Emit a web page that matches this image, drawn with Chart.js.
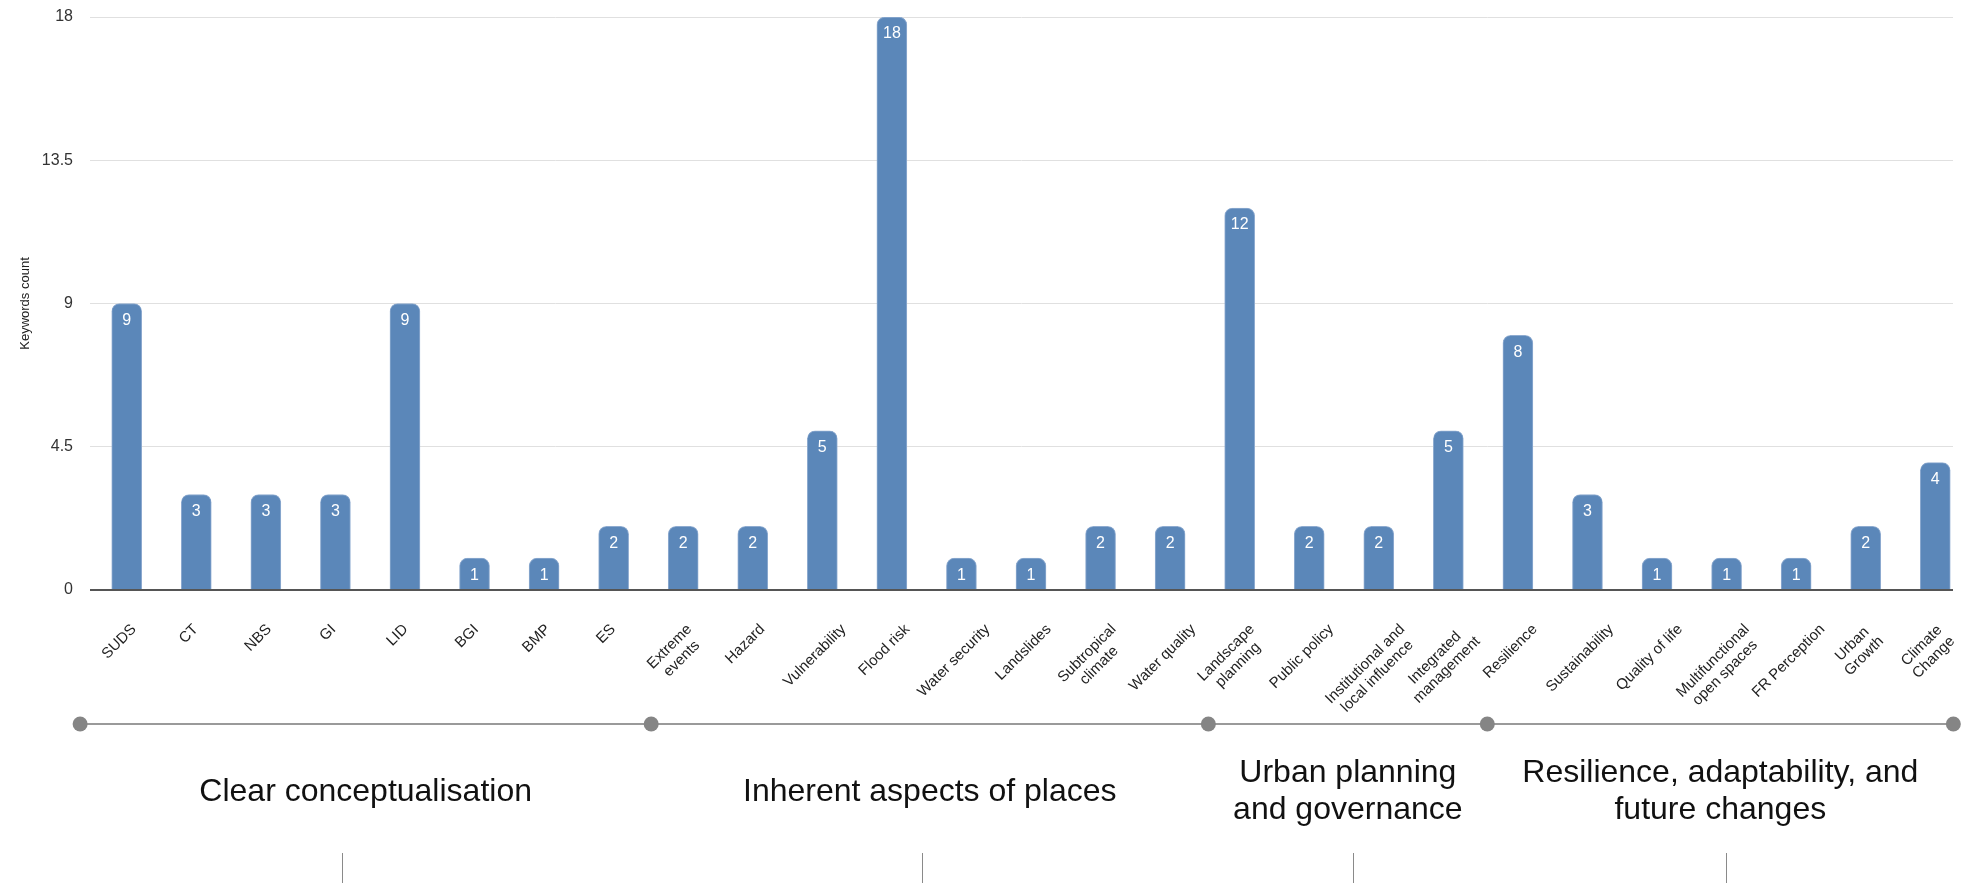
<!DOCTYPE html>
<html>
<head>
<meta charset="utf-8">
<script src="https://cdn.jsdelivr.net/npm/chart.js@4.4.1/dist/chart.umd.min.js"></script>
<style>
  html, body { margin: 0; padding: 0; background: #ffffff; }
  #wrap { position: relative; width: 1963px; height: 883px; }
</style>
</head>
<body>
<div id="wrap"><canvas id="c"></canvas></div>
<script>
// ---- data ----
const categories = [
  'SUDS', 'CT', 'NBS', 'GI', 'LID', 'BGI', 'BMP', 'ES',
  ['Extreme', 'events'], 'Hazard', 'Vulnerability', 'Flood risk',
  'Water security', 'Landslides', ['Subtropical', 'climate'], 'Water quality',
  ['Landscape', 'planning'], 'Public policy', ['Institutional and', 'local influence'],
  ['Integrated', 'management'], 'Resilience', 'Sustainability', 'Quality of life',
  ['Multifunctional', 'open spaces'], 'FR Perception', ['Urban', 'Growth'], ['Climate', 'Change']
];
const keywordCounts = [9, 3, 3, 3, 9, 1, 1, 2, 2, 2, 5, 18, 1, 1, 2, 2, 12, 2, 2, 5, 8, 3, 1, 1, 1, 2, 4];
const yTicks = [0, 4.5, 9, 13.5, 18];
const yAxisTitle = 'Keywords count';

const groupNames = [
  ['Clear conceptualisation'],
  ['Inherent aspects of places'],
  ['Urban planning', 'and governance'],
  ['Resilience, adaptability, and', 'future changes']
];
// group boundaries and marker positions, in category units
const groupBounds = [-0.67, 7.54, 15.55, 19.56, 26.26];
const groupMarks = [3.09, 11.43, 17.63, 22.99];

// ---- plugins ----
const FONT = '"Liberation Sans", Arial, Helvetica, sans-serif';

const barValueLabels = {
  id: 'barValueLabels',
  afterDatasetsDraw(chart) {
    const ctx = chart.ctx;
    const meta = chart.getDatasetMeta(0);
    ctx.save();
    ctx.font = '16px ' + FONT;
    ctx.fillStyle = '#ffffff';
    ctx.textAlign = 'center';
    ctx.textBaseline = 'middle';
    meta.data.forEach((bar, i) => {
      ctx.fillText(String(keywordCounts[i]), bar.x, bar.y + 17);
    });
    ctx.restore();
  }
};

const rotatedCategoryLabels = {
  id: 'rotatedCategoryLabels',
  afterDraw(chart) {
    const ctx = chart.ctx;
    const xs = chart.scales.x;
    const lh = 17, yTop = 621, dx = -7.5;
    ctx.save();
    ctx.font = '15px ' + FONT;
    ctx.fillStyle = '#222222';
    ctx.textAlign = 'center';
    ctx.textBaseline = 'middle';
    categories.forEach((lab, i) => {
      const lines = Array.isArray(lab) ? lab : [lab];
      const w = Math.max(...lines.map(l => ctx.measureText(l).width));
      const H = lines.length * lh;
      const cx = xs.getPixelForValue(i) + dx;
      const cy = yTop + 0.3536 * (w + H);
      ctx.save();
      ctx.translate(cx, cy);
      ctx.rotate(-Math.PI / 4);
      lines.forEach((l, k) => ctx.fillText(l, 0, (k - (lines.length - 1) / 2) * lh));
      ctx.restore();
    });
    ctx.restore();
  }
};

const groupBand = {
  id: 'groupBand',
  afterDraw(chart) {
    const ctx = chart.ctx;
    const xs = chart.scales.x;
    const lineY = 724;
    const px = groupBounds.map(v => xs.getPixelForValue(v));
    ctx.save();
    ctx.strokeStyle = '#9a9a9a';
    ctx.lineWidth = 2;
    ctx.beginPath();
    ctx.moveTo(px[0], lineY);
    ctx.lineTo(px[px.length - 1], lineY);
    ctx.stroke();
    ctx.fillStyle = '#858585';
    px.forEach(x => {
      ctx.beginPath();
      ctx.arc(x, lineY, 7.5, 0, Math.PI * 2);
      ctx.fill();
    });
    ctx.font = '32px ' + FONT;
    ctx.fillStyle = '#111111';
    ctx.textAlign = 'center';
    ctx.textBaseline = 'middle';
    const midY = 792, glh = 37;
    groupNames.forEach((lines, g) => {
      const cx = (px[g] + px[g + 1]) / 2;
      lines.forEach((l, k) => {
        ctx.fillText(l, cx, midY + (k - (lines.length - 1) / 2) * glh);
      });
    });
    ctx.strokeStyle = '#8a8a8a';
    ctx.lineWidth = 1;
    groupMarks.forEach(v => {
      const x = Math.round(xs.getPixelForValue(v)) + 0.5;
      ctx.beginPath();
      ctx.moveTo(x, 853);
      ctx.lineTo(x, 883);
      ctx.stroke();
    });
    ctx.restore();
  }
};

// ---- chart ----
const points = keywordCounts.map((v, i) => ({ x: i, y: v }));

new Chart(document.getElementById('c'), {
  type: 'bar',
  data: {
    datasets: [{
      label: yAxisTitle,
      data: points,
      backgroundColor: '#5b87b9',
      borderColor: '#8eabd0',
      borderWidth: 1,
      borderSkipped: 'start',
      borderRadius: 8,
      barThickness: 30
    }]
  },
  options: {
    responsive: true,
    maintainAspectRatio: false,
    animation: false,
    devicePixelRatio: 1,
    layout: { padding: { top: 17, right: 10, bottom: 293, left: 0 } },
    plugins: { legend: { display: false }, tooltip: { enabled: false } },
    scales: {
      x: {
        type: 'linear',
        display: false,
        offset: false,
        min: -0.528,
        max: 26.255,
        afterBuildTicks: (scale) => { scale.ticks = categories.map((_, i) => ({ value: i })); }
      },
      y: {
        min: 0,
        max: 18,
        afterBuildTicks: (scale) => { scale.ticks = yTicks.map(v => ({ value: v })); },
        afterFit: (scale) => { scale.width = 90; scale.paddingTop = 0; scale.paddingBottom = 0; },
        border: { display: false },
        grid: {
          drawTicks: false,
          color: (c) => (c.tick && c.tick.value === 0) ? '#555555' : '#e0e0e0',
          lineWidth: (c) => (c.tick && c.tick.value === 0) ? 2 : 1
        },
        ticks: {
          padding: 17,
          color: '#333333',
          font: { family: FONT, size: 16 },
          callback: (v) => String(v)
        },
        title: {
          display: true,
          text: yAxisTitle,
          color: '#222222',
          font: { family: FONT, size: 13 },
          padding: { top: 18, bottom: 0 }
        }
      }
    }
  },
  plugins: [barValueLabels, rotatedCategoryLabels, groupBand]
});
</script>
</body>
</html>
